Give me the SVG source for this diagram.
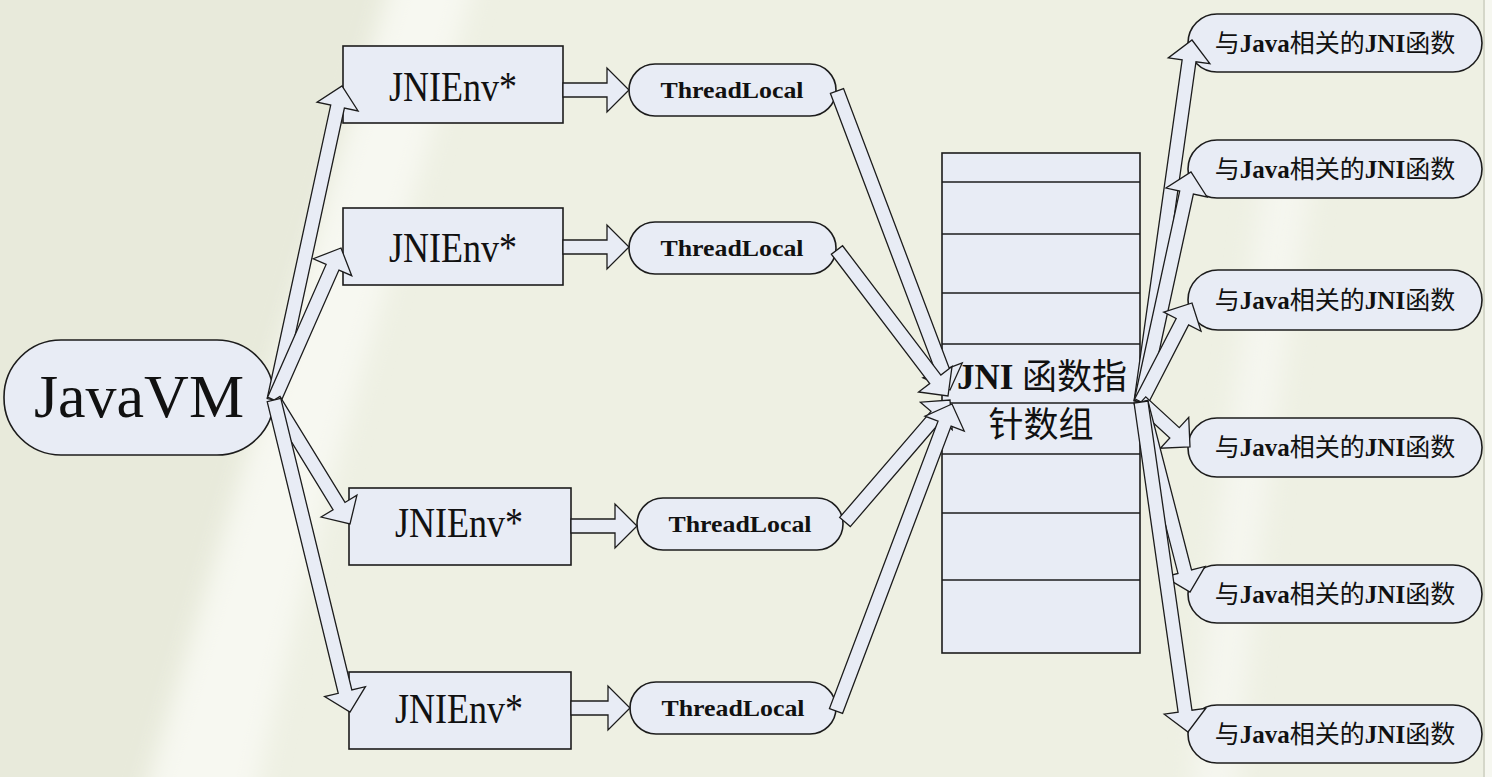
<svg xmlns="http://www.w3.org/2000/svg" width="1492" height="777" viewBox="0 0 1492 777">
<defs>
<style>
.n{fill:#e8ecf5;stroke:#1c1c1c;stroke-width:1.6}
.a{fill:#e8ecf5;stroke:#1c1c1c;stroke-width:1.3;stroke-linejoin:miter}
.ln{stroke:#1c1c1c;stroke-width:1.6}
.serif{font-family:"Liberation Serif","Noto Sans CJK SC",serif;fill:#111}
.big{font-size:62px}
.env{font-size:42px}
.tl{font-size:24px;font-weight:bold}
.fn{font-size:25px}
.b{font-weight:bold}
.arr{font-size:35px}
</style>
<filter id="soft" x="-20%" y="-20%" width="140%" height="140%">
<feGaussianBlur stdDeviation="12"/>
</filter>
</defs>
<rect x="0" y="0" width="1492" height="777" fill="#eef0e3"/>
<path d="M-40,-40 L400,-40 C330,200 250,450 140,820 L-40,820 Z" fill="#e8eadb" filter="url(#soft)"/>
<path d="M400,-40 L480,-40 C410,220 320,480 250,820 L140,820 C250,450 330,200 400,-40 Z" fill="#f7f8f1" filter="url(#soft)"/>
<path d="M1265,160 L1315,160 C1290,330 1260,500 1235,820 L1190,820 C1215,500 1245,330 1265,160 Z" fill="#f5f6ef" filter="url(#soft)"/>
<line x1="1484" y1="0" x2="1484" y2="777" stroke="#cdcfc1" stroke-width="1.5"/>
<rect x="1485" y="0" width="7" height="777" fill="#f6f7f0"/>

<g id="javavm">
<rect class="n" x="4" y="340" width="270" height="115" rx="57" ry="57"/>
<text class="serif big" x="139" y="417" text-anchor="middle">JavaVM</text>
</g>

<g id="jnienv1">
<rect class="n" x="343" y="46" width="220" height="77"/>
<text class="serif env" x="453" y="101" text-anchor="middle" textLength="128" lengthAdjust="spacingAndGlyphs">JNIEnv*</text>
</g>
<g id="jnienv2">
<rect class="n" x="343" y="208" width="220" height="77"/>
<text class="serif env" x="453" y="262" text-anchor="middle" textLength="128" lengthAdjust="spacingAndGlyphs">JNIEnv*</text>
</g>
<g id="jnienv3">
<rect class="n" x="349" y="488" width="222" height="77"/>
<text class="serif env" x="459" y="537" text-anchor="middle" textLength="128" lengthAdjust="spacingAndGlyphs">JNIEnv*</text>
</g>
<g id="jnienv4">
<rect class="n" x="349" y="672" width="222" height="77"/>
<text class="serif env" x="459" y="723" text-anchor="middle" textLength="128" lengthAdjust="spacingAndGlyphs">JNIEnv*</text>
</g>

<g id="threadlocal1">
<rect class="n" x="629" y="64" width="207" height="52" rx="26" ry="26"/>
<text class="serif tl" x="732" y="98" text-anchor="middle" textLength="143" lengthAdjust="spacingAndGlyphs">ThreadLocal</text>
</g>
<g id="threadlocal2">
<rect class="n" x="629" y="222" width="207" height="52" rx="26" ry="26"/>
<text class="serif tl" x="732" y="256" text-anchor="middle" textLength="143" lengthAdjust="spacingAndGlyphs">ThreadLocal</text>
</g>
<g id="threadlocal3">
<rect class="n" x="637" y="498" width="206" height="52" rx="26" ry="26"/>
<text class="serif tl" x="740" y="532" text-anchor="middle" textLength="143" lengthAdjust="spacingAndGlyphs">ThreadLocal</text>
</g>
<g id="threadlocal4">
<rect class="n" x="630" y="682" width="206" height="52" rx="26" ry="26"/>
<text class="serif tl" x="733" y="716" text-anchor="middle" textLength="143" lengthAdjust="spacingAndGlyphs">ThreadLocal</text>
</g>

<g id="jni-array">
<rect class="n" x="942" y="153" width="198" height="500"/>
<line class="ln" x1="942" y1="182" x2="1140" y2="182"/>
<line class="ln" x1="942" y1="234" x2="1140" y2="234"/>
<line class="ln" x1="942" y1="293" x2="1140" y2="293"/>
<line class="ln" x1="942" y1="344" x2="1140" y2="344"/>
<line class="ln" x1="942" y1="403" x2="1140" y2="403"/>
<line class="ln" x1="942" y1="454" x2="1140" y2="454"/>
<line class="ln" x1="942" y1="513" x2="1140" y2="513"/>
<line class="ln" x1="942" y1="580" x2="1140" y2="580"/>
<text class="serif arr" x="1042" y="389" text-anchor="middle"><tspan class="b">JNI</tspan> 函数指</text>
<text class="serif arr" x="1041" y="437" text-anchor="middle">针数组</text>
</g>

<g id="fn1">
<rect class="n" x="1188" y="14" width="294" height="58" rx="29" ry="29"/>
<text class="serif fn" x="1335" y="52" text-anchor="middle">与<tspan class="b">Java</tspan>相关的<tspan class="b">JNI</tspan>函数</text>
</g>
<g id="fn2">
<rect class="n" x="1188" y="140" width="294" height="58" rx="29" ry="29"/>
<text class="serif fn" x="1335" y="178" text-anchor="middle">与<tspan class="b">Java</tspan>相关的<tspan class="b">JNI</tspan>函数</text>
</g>
<g id="fn3">
<rect class="n" x="1188" y="270" width="294" height="60" rx="30" ry="30"/>
<text class="serif fn" x="1335" y="309" text-anchor="middle">与<tspan class="b">Java</tspan>相关的<tspan class="b">JNI</tspan>函数</text>
</g>
<g id="fn4">
<rect class="n" x="1188" y="418" width="294" height="59" rx="29" ry="29"/>
<text class="serif fn" x="1335" y="456" text-anchor="middle">与<tspan class="b">Java</tspan>相关的<tspan class="b">JNI</tspan>函数</text>
</g>
<g id="fn5">
<rect class="n" x="1188" y="565" width="294" height="58" rx="29" ry="29"/>
<text class="serif fn" x="1335" y="603" text-anchor="middle">与<tspan class="b">Java</tspan>相关的<tspan class="b">JNI</tspan>函数</text>
</g>
<g id="fn6">
<rect class="n" x="1188" y="705" width="294" height="58" rx="29" ry="29"/>
<text class="serif fn" x="1335" y="743" text-anchor="middle">与<tspan class="b">Java</tspan>相关的<tspan class="b">JNI</tspan>函数</text>
</g>

<g id="connectors">
<polygon class="a" points="280.84,401.48 344.40,108.00 358.08,110.96 342,86 317.04,102.08 330.72,105.04 267.16,398.52"/>
<polygon class="a" points="280.41,402.82 338.94,270.04 351.75,275.69 341,248 313.31,258.75 326.12,264.40 267.59,397.18"/>
<polygon class="a" points="268.03,403.66 333.05,509.75 321.11,517.07 350,524 356.93,495.11 345.00,502.43 279.97,396.34"/>
<polygon class="a" points="267.20,401.66 338.23,693.26 324.63,696.57 350,712 365.43,686.63 351.83,689.94 280.80,398.34"/>

<polygon class="a" points="563,83 607,83 607,68 629,90 607,112 607,97 563,97"/>
<polygon class="a" points="563,240 607,240 607,225 629,247 607,269 607,254 563,254"/>
<polygon class="a" points="571,519 615,519 615,504 637,526 615,548 615,533 571,533"/>
<polygon class="a" points="571,701 608,701 608,686 630,708 608,730 608,715 571,715"/>

<polygon class="a" points="830.45,93.48 936.02,372.83 922.92,377.78 950,390 962.22,362.92 949.12,367.87 843.55,88.52"/>
<polygon class="a" points="831.43,254.24 929.72,383.52 918.57,391.99 948,396 952.01,366.57 940.86,375.04 842.57,245.76"/>
<polygon class="a" points="850.31,526.57 941.61,420.49 952.22,429.62 950,400 920.38,402.22 930.99,411.35 839.69,517.43"/>
<polygon class="a" points="842.55,713.47 951.13,426.11 964.22,431.06 952,404 924.94,416.22 938.03,421.17 829.45,708.53"/>

<polygon class="a" points="1147.93,402.98 1196.00,61.77 1209.86,63.72 1192,40 1168.28,57.86 1182.14,59.81 1134.07,401.02"/>
<polygon class="a" points="1147.84,403.49 1193.38,194.01 1207.06,196.98 1191,172 1166.02,188.06 1179.70,191.03 1134.16,400.51"/>
<polygon class="a" points="1147.22,405.20 1188.61,324.86 1201.05,331.27 1192,303 1163.73,312.05 1176.17,318.46 1134.78,398.80"/>
<polygon class="a" points="1136.27,407.16 1169.80,437.96 1160.33,448.27 1190,447 1188.73,417.33 1179.26,427.64 1145.73,396.84"/>
<polygon class="a" points="1134.22,403.75 1177.98,573.41 1164.42,576.90 1190,592 1205.10,566.42 1191.54,569.91 1147.78,400.25"/>
<polygon class="a" points="1134.07,402.99 1178.11,712.20 1164.25,714.17 1188,732 1205.83,708.25 1191.97,710.22 1147.93,401.01"/>
</g>
</svg>
